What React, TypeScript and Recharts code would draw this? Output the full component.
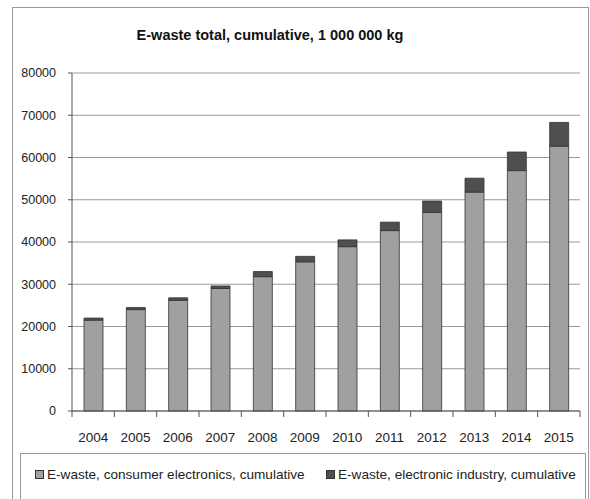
import React from "react";
import {
  BarChart,
  Bar,
  XAxis,
  YAxis,
  CartesianGrid,
} from "recharts";

const years = ["2004", "2005", "2006", "2007", "2008", "2009", "2010", "2011", "2012", "2013", "2014", "2015"];
const consumer = [21500, 24000, 26200, 29000, 31800, 35300, 38900, 42700, 47000, 51800, 56900, 62700];
const industry = [500, 500, 600, 600, 1200, 1300, 1600, 2000, 2700, 3300, 4400, 5600];
const yTicks = [0, 10000, 20000, 30000, 40000, 50000, 60000, 70000, 80000];

const W = 590;
const H = 499;
const margin = { top: 73, right: 10, left: 12, bottom: 58 };
const Y_W = 60;
const BAND = (W - margin.left - margin.right - Y_W) / years.length;
const FONT = "'Liberation Sans', Arial, sans-serif";

const data = years.map((year, i) => ({
  year,
  consumer: consumer[i],
  industry: industry[i],
}));

function XTick(props: any) {
  const { x, y, payload, index } = props;
  const left = x - BAND / 2;
  return (
    <g>
      <line x1={left} x2={left} y1={y} y2={y + 6} stroke="#555" />
      {index === years.length - 1 && (
        <line x1={x + BAND / 2} x2={x + BAND / 2} y1={y} y2={y + 6} stroke="#555" />
      )}
      <text x={x} y={y + 31} textAnchor="middle" fontSize={13.5} fill="#222" fontFamily={FONT}>
        {payload.value}
      </text>
    </g>
  );
}

function Swatch({ color }: { color: string }) {
  return (
    <span
      style={{
        display: "inline-block",
        width: 7,
        height: 7,
        background: color,
        border: "1px solid #333",
        marginRight: 3,
      }}
    />
  );
}

export default function App() {
  return (
    <div style={{ position: "absolute", left: 0, top: 0, width: W, height: H, background: "#fff", overflow: "hidden" }}>
      <div
        style={{
          position: "absolute",
          left: 12,
          top: 7,
          width: 575,
          height: 510,
          border: "1px solid #999",
        }}
      />
      <div
        style={{
          position: "absolute",
          left: 0,
          top: 27,
          width: 540,
          textAlign: "center",
          fontFamily: FONT,
          fontWeight: "bold",
          fontSize: 14.5,
          color: "#111",
        }}
      >
        E-waste total, cumulative, 1 000 000 kg
      </div>
      <div style={{ position: "absolute", left: 0, top: 0 }}>
        <BarChart width={W} height={H} data={data} margin={margin}>
          <CartesianGrid horizontal vertical={false} stroke="#999" strokeWidth={1.2} />
          <XAxis
            dataKey="year"
            tickLine={false}
            tickSize={0}
            tickMargin={0}
            axisLine={{ stroke: "#555" }}
            tick={<XTick />}
            height={30}
            interval={0}
          />
          <YAxis
            domain={[0, 80000]}
            ticks={yTicks}
            width={Y_W}
            tickSize={4}
            tickMargin={12}
            axisLine={{ stroke: "#555" }}
            tickLine={{ stroke: "#555" }}
            tick={{ fontSize: 12.5, fill: "#222", fontFamily: FONT }}
          />
          <YAxis
            yAxisId="frame"
            orientation="right"
            width={0}
            tick={false}
            tickLine={false}
            axisLine={{ stroke: "#999" }}
          />
          <Bar dataKey="consumer" stackId="a" fill="#a0a0a0" stroke="#333" strokeWidth={0.8} barSize={19} isAnimationActive={false} />
          <Bar dataKey="industry" stackId="a" fill="#4f4f4f" stroke="#333" strokeWidth={0.8} barSize={19} isAnimationActive={false} />
        </BarChart>
      </div>
      <div
        style={{
          position: "absolute",
          left: 20,
          top: 453,
          width: 564,
          height: 60,
          border: "1px solid #999",
          fontFamily: FONT,
          fontSize: 13.6,
          color: "#222",
        }}
      >
        <div style={{ position: "absolute", left: 14, top: 13, whiteSpace: "nowrap" }}>
          <Swatch color="#a0a0a0" />E-waste, consumer electronics, cumulative
        </div>
        <div style={{ position: "absolute", left: 305, top: 13, whiteSpace: "nowrap" }}>
          <Swatch color="#4f4f4f" />E-waste, electronic industry, cumulative
        </div>
      </div>
    </div>
  );
}
